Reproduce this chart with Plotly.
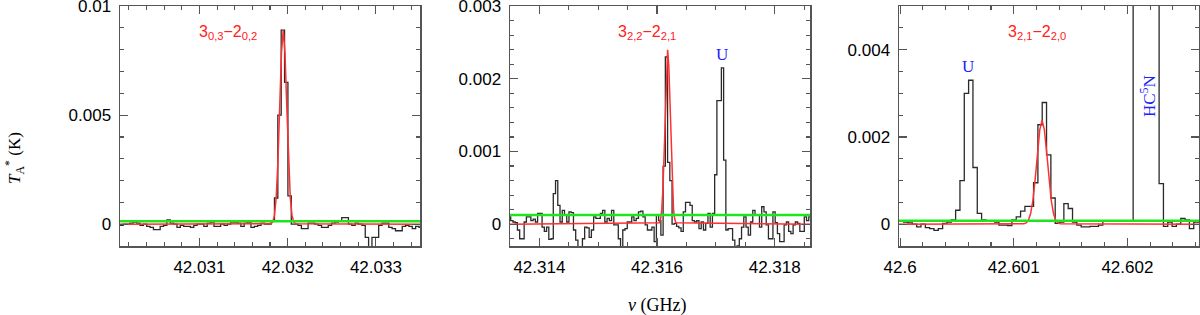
import plotly.graph_objects as go

CHAN_GHZ = 0.0000381  # channel width (GHz)

# ---------------- Panel 1 : 3(0,3)-2(0,2) ----------------
p1_f0 = 42.030079
p1_mK = [-0.05, -0.05, 0, 0, 0.05, 0.1, 0.05, -0.05, 0, -0.1,
         -0.15, -0.25, -0.25, -0.1, -0.05, 0.2, 0.05, 0, -0.15, -0.05,
         -0.1, -0.1, -0.15, -0.05, 0, 0, -0.1, 0.05, 0.1, -0.1,
         -0.1, 0, -0.05, 0, 0.1, 0.1, 0.05, -0.1, 0.05, 0.1,
         -0.15, -0.1, -0.05, 0.05, 0, 0, 0.15, 1.2, 5.0, 8.9,
         6.5, 1.3, 0, 0, -0.05, -0.2, -0.2, 0.05, 0.05, 0,
         -0.05, -0.15, -0.15, -0.05, 0.05, 0.1, 0.15, 0.3, 0.3, 0,
         -0.05, 0.05, 0, -0.05, -0.6, -1.05, -0.6, -0.6, -0.05, 0.05,
         0.05, -0.15, -0.2, -0.3, -0.3, -0.1, -0.05, -0.1, -0.2, -0.1, -0.15]
p1_fit_ghz = [42.0301, 42.03181, 42.03183, 42.03185, 42.03187, 42.03189, 42.03191, 42.03193,
              42.03195, 42.03197, 42.03199, 42.03201, 42.03203, 42.03205, 42.03207, 42.03209, 42.0335]
p1_fit_mK = [0, 0.02, 0.1, 0.39, 1.2, 2.89, 5.4, 7.85, 8.9, 7.85, 5.4, 2.89, 1.2, 0.39, 0.1, 0.02, 0]
p1_green_mK = 0.14
p1_xrange = [42.0301, 42.0335]
p1_yrange = [-0.001, 0.01]
p1_xticks = [42.031, 42.032, 42.033]
p1_xticktext = ["42.031", "42.032", "42.033"]
p1_yticks = [0, 0.005, 0.01]
p1_yticktext = ["0", "0.005", "0.01"]

# ---------------- Panel 2 : 3(2,2)-2(2,1) ----------------
p2_f0 = 42.313493
p2_mK = [0.1, 0.05, 0.03, 0.02, -0.08, -0.2, -0.2, 0.03, 0.1, 0.1,
         0.05, 0.07, 0.03, 0.15, 0.15, -0.04, -0.1, -0.04, -0.21, -0.2,
         0.42, 0.6, 0.26, 0.03, 0.19, 0.12, 0.03, 0.17, 0.16, -0.08,
         -0.22, -0.35, -0.35, -0.2, -0.04, -0.05, -0.18, -0.08, 0.1, 0.08,
         0.08, 0.15, 0.19, 0.03, 0.08, 0.05, 0.19, -0.01, -0.01, -0.2,
         -0.4, -0.08, -0.06, 0.03, 0.03, 0.1, 0.05, 0.08, 0.17, 0.18,
         0.1, -0.01, -0.08, -0.08, -0.04, -0.24, 0.12,
         0.05, -0.15, 0.8, 2.3, 0.85, 0.6, 0.0, 0.01, -0.03, -0.05,
         -0.1, 0.17, 0.3, 0.3, 0.26, 0.05, 0.03, 0.05, -0.06, 0.03,
         -0.08, 0.01, 0.15, -0.04, 0.15, 0.68, 1.7, 1.7, 2.15, 0.88,
         -0.08, -0.06, -0.06, -0.22, -0.31, -0.3, -0.2, -0.04, 0.1, -0.04,
         -0.15, 0.03, 0.19, 0.12, 0.12, -0.04, 0.24, 0.17, -0.01, -0.2,
         -0.2, 0.17, 0.02, -0.13, -0.24, -0.24, -0.01, 0.03, -0.1, -0.13,
         -0.01, 0.03, 0.01, -0.1, -0.1, 0.1, 0.05, 0.1]
p2_fit_ghz = [42.3135, 42.31604, 42.31606, 42.31608, 42.3161, 42.31612, 42.31614, 42.31616,
              42.31618, 42.3162, 42.31622, 42.31624, 42.31626, 42.31628, 42.3163, 42.31632, 42.3186]
p2_fit_mK = [0, 0.02, 0.07, 0.2, 0.49, 0.99, 1.62, 2.17, 2.4, 2.17, 1.62, 0.99, 0.49, 0.2, 0.07, 0.02, 0]
p2_green_mK = 0.125
p2_xrange = [42.3135, 42.3186]
p2_yrange = [-0.0003, 0.003]
p2_xticks = [42.314, 42.316, 42.318]
p2_xticktext = ["42.314", "42.316", "42.318"]
p2_yticks = [0, 0.001, 0.002, 0.003]
p2_yticktext = ["0", "0.001", "0.002", "0.003"]

# ---------------- Panel 3 : 3(2,1)-2(2,0) ----------------
p3_f0 = 42.600012
p3_mK = [0.07, 0.05, 0.03, 0.0, -0.06, 0.0, -0.08, -0.1, -0.14, -0.1,
         0.02, 0.05, 0.1, 0.32, 1.0, 3.0, 3.3, 1.3, 0.25, 0.1,
         0.08, 0.07, 0.05, -0.02, -0.02, -0.03, 0.1, 0.17, 0.3, 0.41,
         0.41, 0.95, 2.28, 2.79, 1.59, 0.6, 0.02, 0.05, 0.47, 0.36,
         0.05, -0.02, -0.06, -0.06, -0.05, -0.05, -0.02, 0.07, 0.07, 0.07,
         0.08, 0.07, 0.08, 0.08, 12, 40, 60, 60, 40, 15,
         0.93, -0.05, 0.05, -0.05, 0.0, 0.13, 0.1, -0.1, 0.05, 0.05]
p3_fit_ghz = [42.59999, 42.601089, 42.601109, 42.601129, 42.601149, 42.601169, 42.601189, 42.601209,
              42.601229, 42.601249, 42.601269, 42.601289, 42.601309, 42.601329, 42.601349, 42.601369,
              42.601389, 42.601409, 42.60263]
p3_fit_mK = [0, 0.01, 0.03, 0.09, 0.25, 0.56, 1.05, 1.66, 2.17, 2.38, 2.17, 1.66, 1.05, 0.56, 0.25,
             0.09, 0.03, 0.01, 0]
p3_green_mK = 0.08
p3_xrange = [42.59999, 42.60263]
p3_yrange = [-0.0005, 0.005]
p3_xticks = [42.6, 42.601, 42.602]
p3_xticktext = ["42.6", "42.601", "42.602"]
p3_yticks = [0, 0.002, 0.004]
p3_yticktext = ["0", "0.002", "0.004"]

panels = [
    dict(f0=p1_f0, mK=p1_mK, fx=p1_fit_ghz, fy=p1_fit_mK, g=p1_green_mK, xr=p1_xrange, yr=p1_yrange,
         xt=p1_xticks, xtt=p1_xticktext, yt=p1_yticks, ytt=p1_yticktext, xminor=0.0002, yminor=0.001,
         xdom=[120, 420]),
    dict(f0=p2_f0, mK=p2_mK, fx=p2_fit_ghz, fy=p2_fit_mK, g=p2_green_mK, xr=p2_xrange, yr=p2_yrange,
         xt=p2_xticks, xtt=p2_xticktext, yt=p2_yticks, ytt=p2_yticktext, xminor=0.0005, yminor=0.0002,
         xdom=[510, 810]),
    dict(f0=p3_f0, mK=p3_mK, fx=p3_fit_ghz, fy=p3_fit_mK, g=p3_green_mK, xr=p3_xrange, yr=p3_yrange,
         xt=p3_xticks, xtt=p3_xticktext, yt=p3_yticks, ytt=p3_yticktext, xminor=0.0002, yminor=0.0005,
         xdom=[899, 1199]),
]

W, H = 1200, 315
YDOM = [1 - 246 / H, 1 - 6 / H]

fig = go.Figure()
layout = dict(width=W, height=H, autosize=False, margin=dict(l=0, r=0, t=0, b=0, pad=0, autoexpand=False),
              paper_bgcolor="white", plot_bgcolor="white", showlegend=False)

tickfont = dict(family="Liberation Sans, Arial, sans-serif", size=17, color="black")

for n, p in enumerate(panels, start=1):
    xa = "x" if n == 1 else f"x{n}"
    ya = "y" if n == 1 else f"y{n}"
    freqs = [p["f0"] + i * CHAN_GHZ for i in range(len(p["mK"]))]
    fig.add_trace(go.Scatter(x=freqs, y=[v / 1000 for v in p["mK"]], mode="lines",
                             line=dict(color="#2a2a2a", width=1.3, shape="hvh"),
                             xaxis=xa, yaxis=ya, hoverinfo="skip"))
    fig.add_trace(go.Scatter(x=p["fx"], y=[v / 1000 for v in p["fy"]], mode="lines",
                             line=dict(color="#ff3030", width=1.5),
                             xaxis=xa, yaxis=ya, hoverinfo="skip"))
    fig.add_trace(go.Scatter(x=p["xr"], y=[p["g"] / 1000] * 2, mode="lines",
                             line=dict(color="#1ee61e", width=2.5),
                             xaxis=xa, yaxis=ya, hoverinfo="skip"))
    common = dict(ticks="inside", ticklen=8, tickwidth=1.2, tickcolor="#555",
                  showline=True, linecolor="#555", linewidth=1.5, mirror="allticks",
                  showgrid=False, zeroline=False, tickfont=tickfont, tickmode="array",
                  automargin=False, ticklabeloverflow="allow")
    yr = [p["yr"][0], p["yr"][1] * 1.0005]
    layout["xaxis" if n == 1 else f"xaxis{n}"] = dict(
        domain=[p["xdom"][0] / W, p["xdom"][1] / W], range=p["xr"], anchor=ya,
        tickvals=p["xt"], ticktext=p["xtt"], ticklabelstandoff=5,
        minor=dict(ticks="inside", ticklen=4, tickwidth=1.1, tickcolor="#555", dtick=p["xminor"],
                   tick0=p["xt"][0], showgrid=False),
        **common)
    layout["yaxis" if n == 1 else f"yaxis{n}"] = dict(
        domain=YDOM, range=yr, anchor=xa,
        tickvals=p["yt"], ticktext=p["ytt"], ticklabelstandoff=4,
        minor=dict(ticks="inside", ticklen=4, tickwidth=1.1, tickcolor="#555", dtick=p["yminor"],
                   tick0=0, showgrid=False),
        **common)

fig.update_layout(**layout)

red = "#ff2020"
blue = "#2020ff"
sans = "Liberation Sans, Arial, sans-serif"
serif = "Liberation Serif, Times New Roman, serif"


def ann(text, px, py, color, family, size, angle=0):
    fig.add_annotation(text=text, x=px / W, y=1 - py / H, xref="paper", yref="paper",
                       showarrow=False, xanchor="center", yanchor="middle",
                       font=dict(family=family, size=size, color=color), textangle=angle)


ann("3<sub>0,3</sub>\u22122<sub>0,2</sub>", 228, 33, red, sans, 16)
ann("3<sub>2,2</sub>\u22122<sub>2,1</sub>", 647, 33, red, sans, 16)
ann("3<sub>2,1</sub>\u22122<sub>2,0</sub>", 1037, 33, red, sans, 16)
ann("U", 722, 54, blue, serif, 17)
ann("U", 968, 66, blue, serif, 17)
ann("HC<sup>5</sup>N", 1148, 96, blue, serif, 17, angle=-90)
ann("<i>T</i><sub>A</sub><sup>*</sup> (K)", 14, 158, "black", serif, 17, angle=-90)
ann("<i>\u03bd</i> (GHz)", 657, 305, "black", serif, 18)

fig.write_html("out.html", config={"displayModeBar": False, "staticPlot": True},
               post_script="document.body.style.margin='0';document.body.style.overflow='hidden';")
